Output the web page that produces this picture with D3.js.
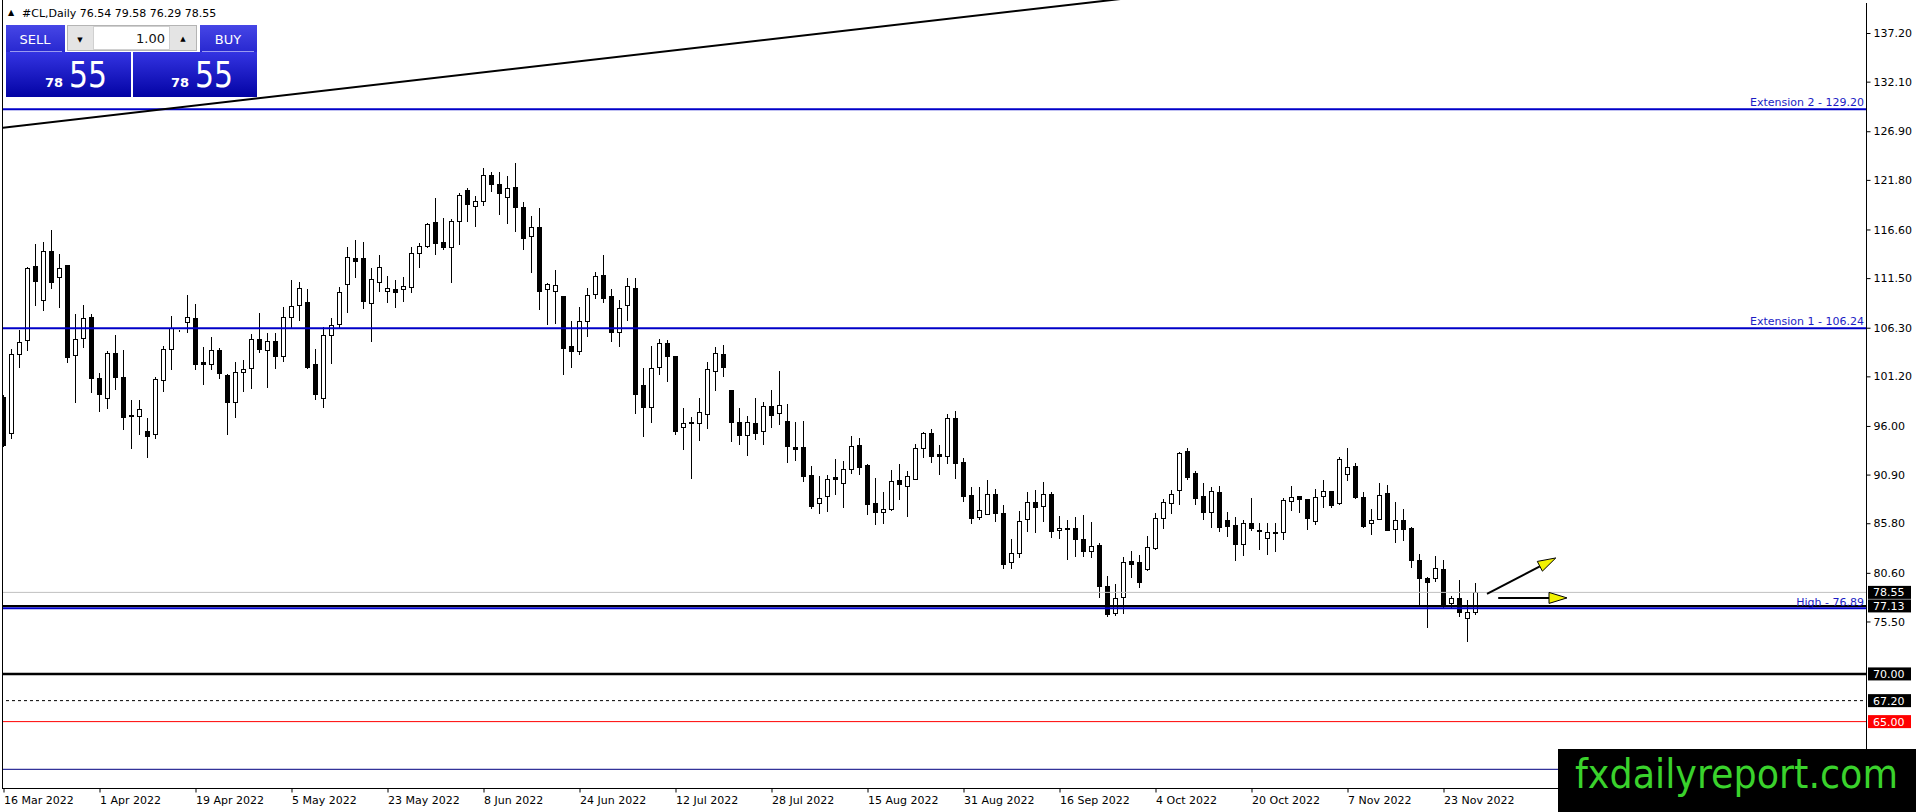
<!DOCTYPE html>
<meta charset="utf-8">
<style>
body { margin: 0; background: #fff; overflow: hidden; }
svg { display: block; }
text { font-family: "DejaVu Sans", sans-serif; }
</style>
<script src="https://cdn.jsdelivr.net/npm/d3@7/dist/d3.min.js"></script>
<body>
<script>
// header / quote
var symbol = "#CL,Daily";
var lastQuote = [76.54, 79.58, 76.29, 78.55];
var lotSize = "1.00";
var bidBig = "55", bidSmall = "78";

// axis labels
var dateLabels = ["16 Mar 2022", "1 Apr 2022", "19 Apr 2022", "5 May 2022", "23 May 2022", "8 Jun 2022",
  "24 Jun 2022", "12 Jul 2022", "28 Jul 2022", "15 Aug 2022", "31 Aug 2022", "16 Sep 2022",
  "4 Oct 2022", "20 Oct 2022", "7 Nov 2022", "23 Nov 2022"];
var barsPerLabel = 12;
var priceTicks = [137.20, 132.10, 126.90, 121.80, 116.60, 111.50, 106.30, 101.20, 96.00, 90.90, 85.80, 80.60, 75.50];

// daily candles, 16 Mar 2022 .. end of Nov 2022
var opens = [99.04,95.24,103.51,105.0,112.77,109.21,114.35,111.65,112.88,103.44,
  105.19,107.39,101.06,98.9,103.68,101.1,97.1,97.08,95.47,95.13,
  100.79,104.04,105.98,106.93,107.29,102.74,102.47,103.97,101.35,98.55,
  101.63,102.05,105.09,103.97,104.91,103.37,107.39,108.65,108.97,102.5,
  98.9,105.51,106.69,110.85,113.58,113.58,108.93,111.13,110.15,110.33,
  110.33,110.54,114.1,114.9,117.35,115.26,114.73,117.49,120.74,119.06,
  119.62,122.31,121.34,120.04,121.02,118.93,115.92,116.83,110.33,110.18,
  109.63,104.38,103.89,107.04,109.84,111.83,109.63,105.88,108.65,110.5,
  100.3,98.02,102.15,104.73,103.34,95.86,96.45,96.28,97.22,101.76,
  103.51,99.77,96.38,95.06,96.28,95.5,98.1,97.33,96.55,93.76,
  93.83,90.86,87.96,88.69,90.65,90.05,91.46,94.01,91.91,87.89,
  87.01,87.26,90.34,89.71,90.47,93.66,95.23,93.06,92.88,96.8,
  92.19,88.76,86.42,86.74,88.87,86.85,81.77,82.65,86.22,88.0,
  87.64,88.84,85.1,85.34,85.27,84.12,82.93,83.52,79.22,76.36,
  78.04,81.85,81.71,80.97,83.17,86.32,87.89,89.29,93.38,91.1,
  88.66,87.01,89.11,86.14,85.62,83.59,85.86,85.1,84.22,84.85,
  84.92,88.17,88.66,88.31,86.04,88.66,89.18,87.89,90.93,91.8,
  88.52,85.8,86.22,89.0,85.17,86.14,85.27,81.95,80.1,80.1,
  81.0,77.41,77.93,75.84,76.54];
var highs = [99.2,104.1,106.06,112.7,115.05,115.32,116.55,114.0,112.9,107.71,
  108.68,107.71,101.52,103.86,105.54,103.97,98.72,98.72,96.8,101.17,
  104.39,107.53,106.02,109.73,108.79,104.25,105.3,104.14,101.4,102.74,
  102.92,105.61,107.81,105.78,105.72,108.44,111.3,111.06,110.33,104.04,
  106.35,107.29,110.6,114.73,115.5,115.26,112.53,113.93,111.76,111.3,
  111.65,114.73,115.15,117.31,119.87,117.77,117.7,120.39,120.98,120.14,
  123.0,122.66,122.66,122.21,123.6,119.45,118.01,118.82,111.02,112.35,
  109.63,107.01,108.44,110.5,112.17,113.93,110.33,109.21,111.51,111.48,
  102.05,104.38,105.12,105.01,103.34,97.92,96.97,98.9,102.68,104.31,
  104.49,99.77,97.85,97.0,98.9,98.55,99.77,101.76,98.3,96.45,
  96.55,91.8,90.79,90.86,92.5,92.33,94.95,94.77,91.98,90.52,
  89.05,91.38,92.01,91.28,94.11,95.4,95.68,94.01,97.26,97.57,
  92.61,89.57,89.57,90.34,89.36,87.72,84.12,87.09,89.05,89.29,
  90.16,89.11,86.56,86.14,86.49,86.67,85.97,83.76,80.27,79.43,
  82.23,82.9,82.47,84.47,86.85,88.35,89.29,93.3,93.66,91.31,
  90.05,89.57,89.71,87.01,86.42,86.14,88.42,85.8,85.8,85.8,
  88.42,89.71,88.7,88.35,89.36,90.34,89.2,92.78,93.66,92.15,
  89.11,87.26,90.0,89.81,88.06,87.3,85.38,82.58,80.2,82.37,
  81.95,78.21,79.85,77.75,79.58];
var lows = [93.9,94.7,102.2,103.97,108.68,108.16,110.5,108.5,102.74,98.48,
  104.31,99.53,97.6,97.92,99.85,95.65,93.72,95.16,92.78,94.71,
  99.67,101.97,105.92,105.88,101.97,100.37,101.94,101.0,95.16,96.97,
  99.7,100.01,103.73,100.11,102.05,102.84,106.24,107.11,102.05,98.8,
  98.02,102.57,106.41,107.98,111.65,108.34,104.94,110.18,109.03,108.5,
  109.13,110.08,112.7,114.73,114.0,114.52,111.06,115.08,117.52,117.0,
  119.17,120.67,118.19,117.31,116.47,114.52,112.17,108.23,106.66,106.83,
  101.42,102.22,103.51,105.46,109.45,109.03,104.94,104.42,107.11,97.33,
  94.98,96.45,101.42,100.75,95.16,93.55,90.51,94.53,95.76,99.77,
  101.27,94.46,94.11,92.96,94.64,94.11,95.92,96.21,92.26,92.44,
  90.26,87.43,86.91,87.12,88.87,87.54,91.1,90.97,86.74,85.69,
  85.8,87.19,88.31,86.56,90.41,92.72,92.19,90.97,92.15,90.52,
  88.17,85.86,86.25,86.74,86.07,81.08,81.08,82.3,85.02,84.92,
  86.07,84.39,84.22,82.02,82.37,82.37,82.3,78.04,76.11,76.2,
  76.42,80.2,79.15,80.9,83.1,85.34,86.85,87.82,90.41,87.79,
  86.22,85.44,85.02,84.5,81.95,82.47,85.1,83.07,82.55,82.92,
  84.12,87.19,87.01,85.2,85.73,87.54,87.54,87.82,90.34,88.42,
  85.44,84.64,86.2,85.05,83.87,84.05,81.25,77.23,74.95,79.78,
  77.06,77.06,76.11,73.49,76.29];
var closes = [94.0,103.5,104.84,112.53,111.23,114.35,111.13,112.6,103.26,105.12,
  107.29,101.06,99.32,103.68,101.17,96.91,97.05,97.75,94.98,100.92,
  104.04,106.3,105.96,107.39,102.5,102.47,103.97,101.52,98.55,101.63,
  101.97,105.09,104.04,104.94,103.37,107.39,108.58,110.43,102.22,99.32,
  105.54,106.59,110.0,113.69,113.33,109.13,111.38,112.64,110.43,110.08,
  110.68,114.1,114.9,117.18,115.15,114.73,117.49,120.22,119.24,119.62,
  122.31,121.34,120.39,120.92,118.93,115.68,116.89,110.18,110.85,110.78,
  104.21,103.89,107.01,109.73,111.72,109.45,105.88,108.34,110.68,99.35,
  98.02,102.05,104.67,103.37,95.5,96.28,96.34,97.43,101.94,103.62,
  102.22,96.45,95.06,96.38,95.3,98.1,97.15,98.2,93.9,93.6,
  90.76,87.61,88.42,90.41,90.41,91.46,93.9,91.73,87.79,87.01,
  87.3,90.26,89.89,90.76,93.66,95.23,92.88,92.88,96.8,92.15,
  88.69,86.32,87.19,88.87,86.85,81.53,82.65,86.04,88.0,87.54,
  88.84,85.02,85.34,85.17,84.12,82.93,83.42,79.25,76.25,77.93,
  81.77,81.5,79.61,83.28,86.32,88.0,88.84,93.13,90.68,88.48,
  87.01,89.21,85.44,85.55,83.59,85.8,85.34,85.0,84.85,84.75,
  88.24,88.52,88.31,86.32,88.52,89.21,87.72,92.5,91.73,88.59,
  85.55,86.14,88.76,85.1,86.14,85.2,81.95,80.03,79.68,81.14,
  77.34,77.93,76.53,76.47,78.55];

// drawn objects
var extLevels = [129.20, 106.24];
var extNames = ["Extension 2 - 129.20", "Extension 1 - 106.24"];
var highLevel = 76.89, highName = "High - 76.89";
var supportLevel = 77.13;
var roundLevel = 70.00, dashLevel = 67.20, redLevel = 65.00, lowLevel = 60.00;
var trendPts = [[-1, 127.18], [150, 141.76]];
var arrowPts = [[[185.5, 78.39], [194.1, 82.16]], [[186.9, 77.97], [195.5, 77.97]]];
var boxLevels = [78.55, 77.13, 70.00, 67.20];
var redBoxLevels = [65.00];

var W = 1916, H = 812;
var axisX = 1866, bottomY = 788;

var svg = d3.select("body").append("svg").attr("width", W).attr("height", H);
var defs = svg.append("defs");
defs.append("clipPath").attr("id", "plot").append("rect")
  .attr("x", 3).attr("y", 0).attr("width", axisX - 3).attr("height", bottomY);
var g1 = defs.append("linearGradient").attr("id", "panelGrad").attr("x1", 0).attr("x2", 0).attr("y1", 0).attr("y2", 1);
g1.append("stop").attr("offset", "0%").attr("stop-color", "#3434e2");
g1.append("stop").attr("offset", "100%").attr("stop-color", "#0303a4");
var g2 = defs.append("linearGradient").attr("id", "btnGrad").attr("x1", 0).attr("x2", 0).attr("y1", 0).attr("y2", 1);
g2.append("stop").attr("offset", "0%").attr("stop-color", "#4646e6");
g2.append("stop").attr("offset", "100%").attr("stop-color", "#2828d0");

var n = opens.length;
var x = d3.scaleLinear().domain([0, n - 1]).range([3, 3 + (n - 1) * 8]);
var y = d3.scaleLinear().domain([58.04, 140.66]).range([bottomY, 0]);
var px = function(i) { return Math.round(x(i)); };
var py = function(v) { return Math.round(y(v)); };

// candles
var plot = svg.append("g").attr("clip-path", "url(#plot)");
var idx = d3.range(n);
var cg = plot.selectAll("g.c").data(idx).enter().append("g");
cg.append("line")
  .attr("x1", function(i) { return px(i) + 0.5; })
  .attr("x2", function(i) { return px(i) + 0.5; })
  .attr("y1", function(i) { return py(highs[i]); })
  .attr("y2", function(i) { return py(lows[i]) + 1; })
  .attr("stroke", "#000").attr("stroke-width", 1);
cg.append("rect")
  .attr("x", function(i) { return px(i) - 1.5; })
  .attr("width", 4)
  .attr("y", function(i) { return py(Math.max(opens[i], closes[i])) + 0.5; })
  .attr("height", function(i) { return Math.max(0, py(Math.min(opens[i], closes[i])) - py(Math.max(opens[i], closes[i]))); })
  .attr("fill", function(i) { return closes[i] >= opens[i] ? "#fff" : "#000"; })
  .attr("stroke", "#000").attr("stroke-width", 1);

// horizontal objects
function hline(p, color, w, dash) {
  var l = plot.append("line").attr("x1", 0).attr("x2", axisX)
    .attr("y1", y(p)).attr("y2", y(p))
    .attr("stroke", color).attr("stroke-width", w);
  if (dash) l.attr("stroke-dasharray", dash);
  return l;
}
hline(lastQuote[3], "#c0c0c0", 1);
extLevels.forEach(function(p, k) {
  hline(p, "#0000c8", 2);
  svg.append("text").attr("x", axisX - 2).attr("y", y(p) - 3)
    .attr("text-anchor", "end").attr("font-size", 11).attr("fill", "#1c1cc4")
    .text(extNames[k]);
});
svg.append("text").attr("x", axisX - 2).attr("y", y(highLevel) - 2)
  .attr("text-anchor", "end").attr("font-size", 11).attr("fill", "#1c1cc4")
  .text(highName);
hline(supportLevel, "#000", 2);
hline(highLevel, "#0000c8", 2);
hline(roundLevel, "#000", 2.5);
hline(dashLevel, "#000", 1, "3,3");
hline(redLevel, "#ff0000", 1);
hline(lowLevel, "#000080", 1);

// trend line
plot.append("line")
  .attr("x1", x(trendPts[0][0])).attr("y1", y(trendPts[0][1]))
  .attr("x2", x(trendPts[1][0])).attr("y2", y(trendPts[1][1]))
  .attr("stroke", "#000").attr("stroke-width", 2);

// arrows
arrowPts.forEach(function(a) {
  var x0 = x(a[0][0]), y0 = y(a[0][1]), x1 = x(a[1][0]), y1 = y(a[1][1]);
  var dx = x1 - x0, dy = y1 - y0, len = Math.sqrt(dx * dx + dy * dy);
  var ux = dx / len, uy = dy / len, hl = 18, hw = 5.5;
  var bx = x1 - ux * hl, by = y1 - uy * hl;
  svg.append("line").attr("x1", x0).attr("y1", y0).attr("x2", bx).attr("y2", by)
    .attr("stroke", "#000").attr("stroke-width", 2);
  svg.append("polygon")
    .attr("points", [[x1, y1], [bx - uy * hw, by + ux * hw], [bx + uy * hw, by - ux * hw]].join(" "))
    .attr("fill", "#f2f200").attr("stroke", "#000").attr("stroke-width", 1);
});

// frame
svg.append("line").attr("x1", 2.5).attr("x2", 2.5).attr("y1", 0).attr("y2", bottomY + 1).attr("stroke", "#000");
svg.append("line").attr("x1", 2).attr("x2", axisX + 1).attr("y1", bottomY + 0.5).attr("y2", bottomY + 0.5).attr("stroke", "#000");

// right axis
var ra = svg.append("g").attr("transform", "translate(" + (axisX + 0.5) + ",0)")
  .call(d3.axisRight(y).tickValues(priceTicks).tickSize(4).tickSizeOuter(0).tickPadding(3).tickFormat(d3.format(".2f")));
ra.select(".domain").attr("d", "M0,3V" + (bottomY + 1));
ra.selectAll("text").attr("font-size", 11).attr("font-family", "DejaVu Sans").attr("fill", "#000");
ra.selectAll(".tick line").attr("stroke", "#000");

// bottom axis
var dateIdx = dateLabels.map(function(d, i) { return i * barsPerLabel; });
var ba = svg.append("g").attr("transform", "translate(0.5," + (bottomY + 0.5) + ")")
  .call(d3.axisBottom(x).tickValues(dateIdx).tickSize(4).tickPadding(4)
    .tickFormat(function(d, i) { return dateLabels[i]; }));
ba.select(".domain").remove();
ba.selectAll("text").attr("text-anchor", "start").attr("x", 0)
  .attr("font-size", 11).attr("font-family", "DejaVu Sans").attr("fill", "#000");
ba.selectAll(".tick line").attr("stroke", "#000");

// price boxes on the axis
function box(p, bg) {
  svg.append("rect").attr("x", axisX + 2).attr("y", y(p) - 6.5).attr("width", 43).attr("height", 13).attr("fill", bg);
  svg.append("text").attr("x", axisX + 7).attr("y", y(p)).attr("dy", "0.36em")
    .attr("font-size", 11).attr("fill", "#fff").text(d3.format(".2f")(p));
}
boxLevels.forEach(function(p) { box(p, "#000"); });
redBoxLevels.forEach(function(p) { box(p, "#ff0000"); });

// header text
svg.append("text").attr("x", 8).attr("y", 15).attr("font-size", 8).text("\u25B2");
svg.append("text").attr("x", 22).attr("y", 17).attr("font-size", 11).attr("fill", "#000")
  .text(symbol + "  " + lastQuote.map(d3.format(".2f")).join(" "));

// one click trading panel
var panel = svg.append("g");
panel.append("rect").attr("x", 6).attr("y", 52).attr("width", 125).attr("height", 45).attr("fill", "url(#panelGrad)");
panel.append("rect").attr("x", 133).attr("y", 52).attr("width", 124).attr("height", 45).attr("fill", "url(#panelGrad)");
panel.append("rect").attr("x", 6).attr("y", 25).attr("width", 59).attr("height", 27).attr("fill", "url(#btnGrad)");
panel.append("rect").attr("x", 200).attr("y", 25).attr("width", 57).attr("height", 27).attr("fill", "url(#btnGrad)");
panel.append("line").attr("x1", 10).attr("x2", 62).attr("y1", 51.5).attr("y2", 51.5).attr("stroke", "#9a9af0");
panel.append("line").attr("x1", 202).attr("x2", 254).attr("y1", 51.5).attr("y2", 51.5).attr("stroke", "#9a9af0");
panel.append("rect").attr("x", 67.5).attr("y", 25.5).attr("width", 129).attr("height", 25).attr("fill", "#e4e4e4").attr("stroke", "#b4b4b4");
panel.append("rect").attr("x", 93.5).attr("y", 26.5).attr("width", 76).attr("height", 23).attr("fill", "#fff").attr("stroke", "#d0d0d0");
panel.append("text").attr("x", 80).attr("y", 42).attr("font-size", 7).attr("text-anchor", "middle").text("\u25BC");
panel.append("text").attr("x", 183).attr("y", 41).attr("font-size", 7).attr("text-anchor", "middle").text("\u25B2");
panel.append("text").attr("x", 165).attr("y", 43).attr("font-size", 13).attr("text-anchor", "end").attr("fill", "#111").text(lotSize);
panel.append("text").attr("x", 35).attr("y", 44).attr("font-size", 13).attr("text-anchor", "middle").attr("fill", "#fff").text("SELL");
panel.append("text").attr("x", 228).attr("y", 44).attr("font-size", 13).attr("text-anchor", "middle").attr("fill", "#fff").text("BUY");
[[63, 69], [189, 195]].forEach(function(p) {
  panel.append("text").attr("x", p[0]).attr("y", 87).attr("text-anchor", "end")
    .attr("font-size", 13).attr("font-weight", "bold").attr("fill", "#fff").text(bidSmall);
  panel.append("text").attr("x", p[1]).attr("y", 87)
    .attr("font-family", "Liberation Sans").attr("font-size", 36)
    .attr("textLength", 38).attr("lengthAdjust", "spacingAndGlyphs")
    .attr("fill", "#fff").text(bidBig);
});

// watermark
svg.append("rect").attr("x", 1558).attr("y", 749).attr("width", W - 1558).attr("height", H - 749).attr("fill", "#000");
svg.append("text").attr("x", 1575).attr("y", 788).attr("font-family", "Liberation Sans").attr("font-size", 41)
  .attr("textLength", 323).attr("lengthAdjust", "spacingAndGlyphs")
  .attr("fill", "#3ad22c").text("fxdailyreport.com");
</script>
</body>
